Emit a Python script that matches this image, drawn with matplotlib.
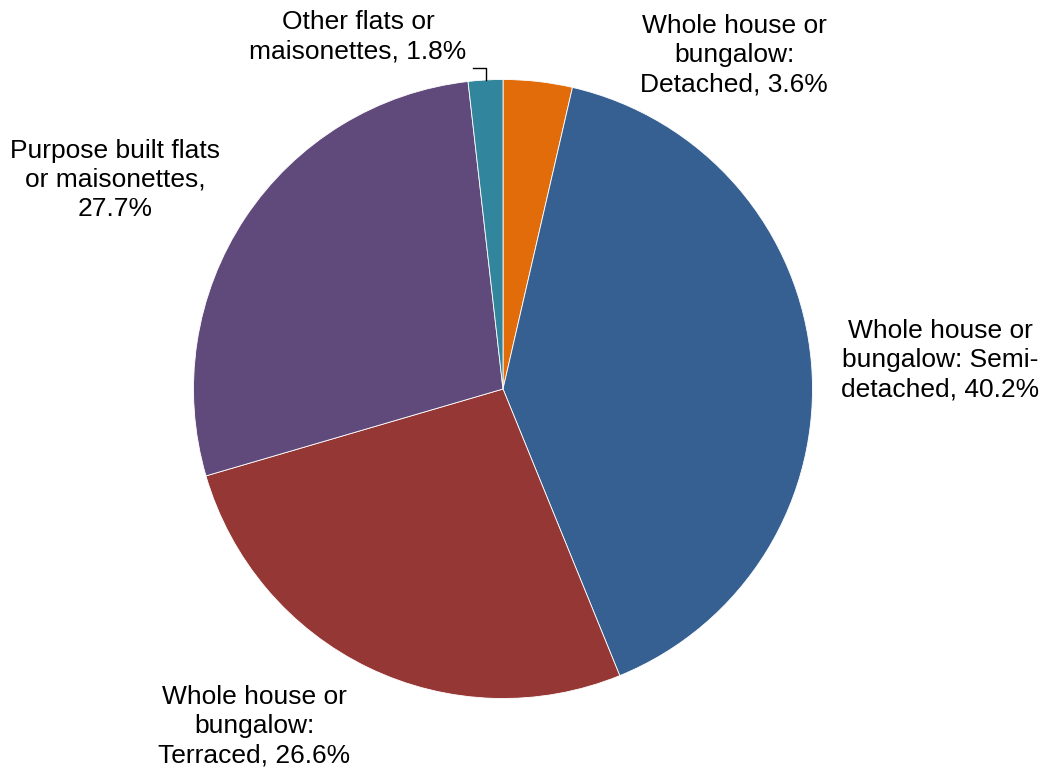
import matplotlib
matplotlib.use("Agg")
import matplotlib.pyplot as plt
from matplotlib.lines import Line2D

plt.rcParams['font.family'] = ['Liberation Sans', 'DejaVu Sans']

categories = ["Whole house or\nbungalow:\nDetached",
              "Whole house or\nbungalow: Semi-\ndetached",
              "Whole house or\nbungalow:\nTerraced",
              "Purpose built flats\nor maisonettes,\n",
              "Other flats or\nmaisonettes"]
values = [3.6, 40.2, 26.6, 27.7, 1.8]
separators = [", ", ", ", ", ", "", ", "]
colors = ["#E36C0A", "#376092", "#953735", "#604A7B", "#31859C"]

labels = [f"{c}{s}{v:.1f}%" for c, s, v in zip(categories, separators, values)]

W, H = 1044, 774
fig = plt.figure(figsize=(W / 100, H / 100), dpi=100)
cx, cy, r = 503, 389, 309.5
ax = fig.add_axes([(cx - r) / W, (H - cy - r) / H, 2 * r / W, 2 * r / H])
ax.pie(values, colors=colors, startangle=90, counterclock=False, radius=1,
       wedgeprops=dict(edgecolor="white", linewidth=0.6))
ax.set_xlim(-1, 1)
ax.set_ylim(-1, 1)
ax.set_aspect("equal")
ax.axis("off")

# label positions in pixels (center x, center y)
label_pos = [(734, 55), (940, 360), (254, 726), (115, 180), (358, 37)]
for lab, (px, py) in zip(labels, label_pos):
    fig.text(px / W, 1 - py / H, lab, ha="center", va="center", fontsize=19,
             linespacing=1.27, color="black")

# leader line for small slice
lx = [473 / W, 486 / W, 486 / W]
ly = [1 - 68 / H, 1 - 68 / H, 1 - 80 / H]
fig.add_artist(Line2D(lx, ly, color="black", linewidth=1.0, transform=fig.transFigure))

fig.savefig("out.png", dpi=100)
